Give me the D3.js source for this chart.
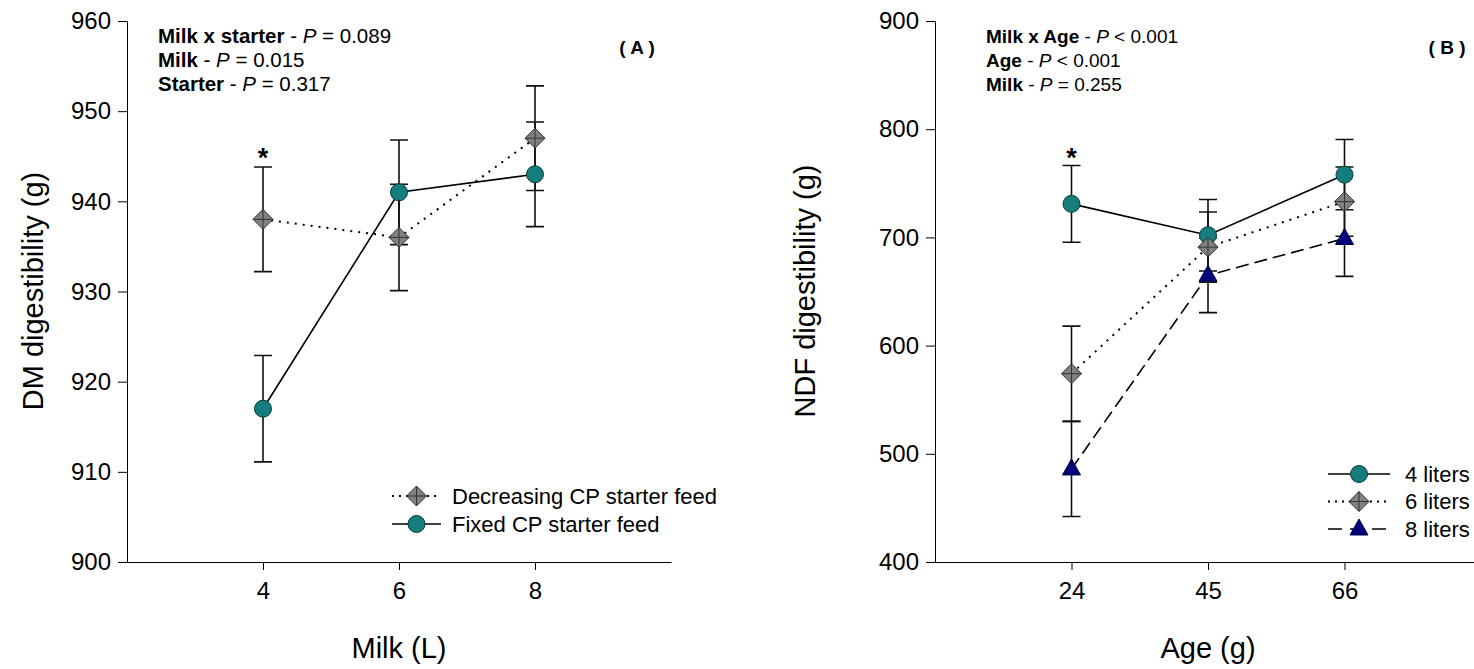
<!DOCTYPE html>
<html>
<head>
<meta charset="utf-8">
<script src="https://cdn.jsdelivr.net/npm/d3@7"></script>
<style>
  body { margin: 0; background: #fff; }
  text { font-family: "Liberation Sans", Arial, sans-serif; fill: #000; }
</style>
</head>
<body>
<div id="chart"></div>
<script>
// ---- Panel A data (DM digestibility by milk volume)
var milkLevels = [4, 6, 8];
var dmDecreasing = [938, 936, 947];
var dmDecreasingErr = [5.8, 5.9, 5.8];
var dmFixed = [917, 941, 943];
var dmFixedErr = [5.9, 5.8, 5.8];
var dmTicks = [900, 910, 920, 930, 940, 950, 960];
var dmStats = [["Milk x starter", " = 0.089"], ["Milk", " = 0.015"], ["Starter", " = 0.317"]];

// ---- Panel B data (NDF digestibility by age)
var ageLevels = [24, 45, 66];
var ndf4 = [731, 702, 758];
var ndf4Err = [35.5, 33, 32.5];
var ndf6 = [574, 691, 733];
var ndf6Err = [44, 32.5, 32];
var ndf8 = [486, 665, 699];
var ndf8Err = [44, 34.5, 35];
var ndfTicks = [400, 500, 600, 700, 800, 900];
var ndfStats = [["Milk x Age", "  < 0.001"], ["Age", "  < 0.001"], ["Milk", " = 0.255"]];

var W = 1474, H = 669;
var svg = d3.select("#chart").append("svg")
    .attr("width", W)
    .attr("height", H);

var teal = "#157d7d", grey = "#808080", navy = "#00007a";

// draw one marker of a given shape
function marker(g, shape, x, y) {
    if (shape === "circle") {
        g.append("circle").attr("cx", x).attr("cy", y).attr("r", 8.5)
            .style("fill", teal).style("stroke", "#0a3a3a").style("stroke-width", 1);
    } else if (shape === "diamond") {
        var s = 10;
        g.append("path")
            .attr("d", "M" + x + "," + (y - s) + "L" + (x + s) + "," + y + "L" + x + "," + (y + s) + "L" + (x - s) + "," + y + "Z")
            .style("fill", grey).style("stroke", "#333").style("stroke-width", 1);
        g.append("path")
            .attr("d", "M" + (x - s) + "," + y + "H" + (x + s) + "M" + x + "," + (y - s) + "V" + (y + s))
            .style("stroke", "#333").style("stroke-width", 1);
    } else {
        g.append("path")
            .attr("d", "M" + x + "," + (y - 10) + "L" + (x + 9) + "," + (y + 6) + "L" + (x - 9) + "," + (y + 6) + "Z")
            .style("fill", navy).style("stroke", "#000040").style("stroke-width", 1);
    }
}

function panel(cfg) {
    var x = d3.scaleLinear().domain(cfg.xDomain).range(cfg.xRange);
    var y = d3.scaleLinear().domain(cfg.yDomain).range([562, 21]);
    var g = svg.append("g");

    // Axes (left and bottom only)
    var xAxis = g.append("g")
        .attr("transform", "translate(0,562)")
        .call(d3.axisBottom(x).tickValues(cfg.xTicks).tickSize(8).tickPadding(12).tickSizeOuter(0));
    xAxis.selectAll("text").style("font-size", cfg.tickFont + "px");

    var yAxis = g.append("g")
        .attr("transform", "translate(" + cfg.xRange[0] + ",0)")
        .call(d3.axisLeft(y).tickValues(cfg.yTicks).tickSize(9).tickPadding(7).tickSizeOuter(0));
    yAxis.selectAll("text").style("font-size", cfg.tickFont + "px");
    g.selectAll(".domain, .tick line").style("stroke", "#000").style("stroke-width", 1);

    // Axis titles
    g.append("text")
        .attr("x", x((cfg.xTicks[0] + cfg.xTicks[2]) / 2))
        .attr("y", 658)
        .attr("text-anchor", "middle")
        .style("font-size", "29px")
        .text(cfg.xTitle);
    g.append("text")
        .attr("transform", "translate(" + cfg.yTitleX + ",291)rotate(-90)")
        .attr("text-anchor", "middle")
        .style("font-size", "29px")
        .text(cfg.yTitle);

    // Series: lines, error bars, markers
    cfg.series.forEach(function(s) {
        var pts = cfg.xTicks.map(function(v, i) { return [x(v), y(s.values[i])]; });
        g.append("path")
            .attr("d", d3.line()(pts))
            .style("fill", "none")
            .style("stroke", "#000")
            .style("stroke-width", s.dash === "dot" ? 2 : 1.6)
            .style("stroke-dasharray", s.dash === "dot" ? "2,6" : (s.dash === "dash" ? "13,6" : null));
    });
    cfg.series.forEach(function(s) {
        cfg.xTicks.forEach(function(v, i) {
            var cx = x(v), lo = y(s.values[i] - s.errs[i]), hi = y(s.values[i] + s.errs[i]);
            g.append("path")
                .attr("d", "M" + cx + "," + lo + "V" + hi + "M" + (cx - 9) + "," + lo + "H" + (cx + 9) + "M" + (cx - 9) + "," + hi + "H" + (cx + 9))
                .style("fill", "none").style("stroke", "#111").style("stroke-width", 1.6);
        });
    });
    cfg.series.forEach(function(s) {
        cfg.xTicks.forEach(function(v, i) { marker(g, s.shape, x(v), y(s.values[i])); });
    });

    // Significance asterisk over first point
    g.append("text")
        .attr("x", x(cfg.xTicks[0]))
        .attr("y", 167)
        .attr("text-anchor", "middle")
        .style("font-size", "27px")
        .style("font-weight", "bold")
        .text("*");

    // P-value annotations
    cfg.stats.forEach(function(st, i) {
        var t = g.append("text")
            .attr("x", cfg.statX)
            .attr("y", 43 + i * 24)
            .style("font-size", cfg.statFont + "px");
        t.append("tspan").style("font-weight", "bold").text(st[0]);
        t.append("tspan").text(" - ");
        t.append("tspan").style("font-style", "italic").text("P");
        t.append("tspan").text(st[1]);
    });
    g.append("text")
        .attr("x", cfg.tagX)
        .attr("y", 54)
        .attr("text-anchor", "middle")
        .style("font-size", "19px")
        .style("font-weight", "bold")
        .text(cfg.tag);

    // Legend
    cfg.series.forEach(function(s, i) {
        var ly = cfg.legY + i * cfg.legStep;
        g.append("line")
            .attr("x1", cfg.legX0).attr("x2", cfg.legX1)
            .attr("y1", ly).attr("y2", ly)
            .style("stroke", "#000")
            .style("stroke-width", s.dash === "dot" ? 2 : 1.6)
            .style("stroke-dasharray", s.dash === "dot" ? "2,5" : (s.dash === "dash" ? "14,8" : null));
        marker(g, s.shape, (cfg.legX0 + cfg.legX1) / 2, ly);
        g.append("text")
            .attr("x", cfg.legText)
            .attr("y", ly)
            .attr("dy", "0.35em")
            .style("font-size", "22px")
            .text(s.name);
    });
}

panel({
    xDomain: [2, 10], xRange: [127, 671], xTicks: milkLevels,
    yDomain: [900, 960], yTicks: dmTicks, tickFont: 24,
    xTitle: "Milk (L)", yTitle: "DM digestibility (g)", yTitleX: 43,
    stats: dmStats, statX: 158, statFont: 20.5, tag: "( A )", tagX: 637,
    legX0: 392, legX1: 441, legText: 452, legY: 496, legStep: 28,
    series: [
        { name: "Decreasing CP starter feed", values: dmDecreasing, errs: dmDecreasingErr, shape: "diamond", dash: "dot" },
        { name: "Fixed CP starter feed", values: dmFixed, errs: dmFixedErr, shape: "circle", dash: "solid" }
    ]
});

panel({
    xDomain: [3, 87], xRange: [935, 1481], xTicks: ageLevels,
    yDomain: [400, 900], yTicks: ndfTicks, tickFont: 24,
    xTitle: "Age (g)", yTitle: "NDF digestibility (g)", yTitleX: 815,
    stats: ndfStats, statX: 986, statFont: 19, tag: "( B )", tagX: 1447,
    legX0: 1328, legX1: 1390, legText: 1405, legY: 474, legStep: 27.5,
    series: [
        { name: "4 liters", values: ndf4, errs: ndf4Err, shape: "circle", dash: "solid" },
        { name: "6 liters", values: ndf6, errs: ndf6Err, shape: "diamond", dash: "dot" },
        { name: "8 liters", values: ndf8, errs: ndf8Err, shape: "triangle", dash: "dash" }
    ]
});
</script>
</body>
</html>
